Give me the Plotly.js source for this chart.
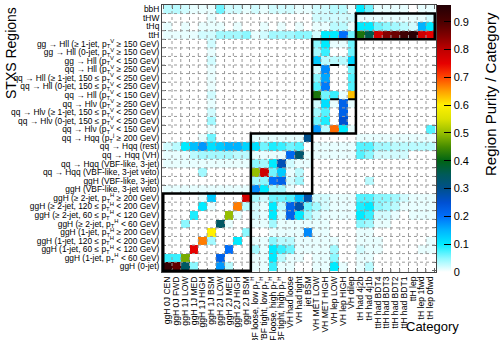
<!DOCTYPE html>
<html><head><meta charset="utf-8">
<script src="https://cdn.plot.ly/plotly-3.0.1.min.js"></script>
<style>html,body{margin:0;padding:0;background:#fff;}#chart{width:501px;height:340px;}</style>
</head><body><div id="chart"></div>
<script>
const categories = ["ggH 0J CEN","ggH 0J FWD","ggH 1J LOW","ggH 1J MED","ggH 1J HIGH","ggH 1J BSM","ggH 2J LOW","ggH 2J MED","ggH 2J HIGH","ggH 2J BSM",
 "VBF loose, low p<sub>T</sub><sup>H</sup>","VBF tight, low p<sub>T</sub><sup>H</sup>","VBF loose, high p<sub>T</sub><sup>H</sup>","VBF tight, high p<sub>T</sub><sup>H</sup>",
 "VH had loose","VH had tight","jet BSM","VH MET LOW","VH MET HIGH","VH lep LOW","VH lep HIGH","VH dilep",
 "tH had 4j2b","tH had 4j1b","ttH had BDT4","ttH had BDT3","ttH had BDT2","ttH had BDT1","ttH lep","tH lep 1fwd","tH lep 0fwd"];
const regions = ["bbH","tHW","tHq","ttH",
 "gg → Hll (≥ 1-jet, p<sub>T</sub><sup>V</sup> ≥ 150 GeV)",
 "gg → Hll (0-jet, p<sub>T</sub><sup>V</sup> ≥ 150 GeV)",
 "gg → Hll (p<sub>T</sub><sup>V</sup> &lt; 150 GeV)",
 "qq → Hll (p<sub>T</sub><sup>V</sup> ≥ 250 GeV)",
 "qq → Hll (≥ 1-jet, 150 ≤ p<sub>T</sub><sup>V</sup> &lt; 250 GeV)",
 "qq → Hll (0-jet, 150 ≤ p<sub>T</sub><sup>V</sup> &lt; 250 GeV)",
 "qq → Hll (p<sub>T</sub><sup>V</sup> &lt; 150 GeV)",
 "qq → Hlν (p<sub>T</sub><sup>V</sup> ≥ 250 GeV)",
 "qq → Hlν (≥ 1-jet, 150 ≤ p<sub>T</sub><sup>V</sup> &lt; 250 GeV)",
 "qq → Hlν (0-jet, 150 ≤ p<sub>T</sub><sup>V</sup> &lt; 250 GeV)",
 "qq → Hlν (p<sub>T</sub><sup>V</sup> &lt; 150 GeV)",
 "qq → Hqq (p<sub>T</sub><sup>j</sup> ≥ 200 GeV)",
 "qq → Hqq (rest)","qq → Hqq (VH)","qq → Hqq (VBF-like, 3-jet)","qq → Hqq (VBF-like, 3-jet veto)",
 "ggH (VBF-like, 3-jet)","ggH (VBF-like, 3-jet veto)",
 "ggH (≥ 2-jet, p<sub>T</sub><sup>H</sup> ≥ 200 GeV)",
 "ggH (≥ 2-jet, 120 ≤ p<sub>T</sub><sup>H</sup> &lt; 200 GeV)",
 "ggH (≥ 2-jet, 60 ≤ p<sub>T</sub><sup>H</sup> &lt; 120 GeV)",
 "ggH (≥ 2-jet, p<sub>T</sub><sup>H</sup> &lt; 60 GeV)",
 "ggH (1-jet, p<sub>T</sub><sup>H</sup> ≥ 200 GeV)",
 "ggH (1-jet, 120 ≤ p<sub>T</sub><sup>H</sup> &lt; 200 GeV)",
 "ggH (1-jet, 60 ≤ p<sub>T</sub><sup>H</sup> &lt; 120 GeV)",
 "ggH (1-jet, p<sub>T</sub><sup>H</sup> &lt; 60 GeV)",
 "ggH (0-jet)"];
const colorTicks = [0,0.1,0.2,0.3,0.4,0.5,0.6,0.7,0.8,0.9];
const colorTickText = ["0","0.1","0.2","0.3","0.4","0.5","0.6","0.7","0.8","0.9"];

// purity per region row (top to bottom), one value per category
const r_bbH   = [0.03,0.03,0.02,0.01,0.01,0.01,0.06,0.02,0.02,0.01,0.02,0.01,0.02,0.02,0.02,0.01,0.01,0.02,0.02,0.03,0.03,0.01,0.10,0.06,0.01,0.01,0.01,0.01,0,0.01,0.01];
const r_tHW   = [0,0,0,0,0,0.01,0,0,0,0,0,0,0,0,0,0,0,0.02,0.02,0.02,0.02,0.02,0.01,0.01,0.01,0.01,0.01,0.01,0.01,0.01,0.02];
const r_tHq   = [0.01,0,0.01,0,0.01,0.01,0.01,0,0.01,0,0,0.01,0,0.01,0,0.01,0,0.01,0.01,0.03,0.03,0.01,0.10,0.10,0.06,0.05,0.04,0.03,0.02,0.15,0.10];
const r_ttH   = [0.01,0.01,0.01,0.01,0.02,0.02,0.04,0.04,0.04,0.05,0.01,0.02,0.04,0.04,0.04,0.05,0.05,0.02,0.10,0.10,0.20,0.06,0.42,0.36,0.78,0.85,0.87,0.92,0.95,0.78,0.75];
const r_ggZll1 = [0,0,0,0,0,0.02,0,0,0,0,0,0,0,0,0,0,0,0.05,0.10,0.01,0.01,0.06,0,0,0,0,0,0,0,0,0];
const r_ggZll0 = [0,0,0,0,0,0.01,0,0,0,0,0,0,0,0,0,0,0,0.04,0.08,0,0,0.06,0,0,0,0,0,0,0,0,0];
const r_ggZllL = [0,0,0,0,0,0.02,0,0,0,0,0,0,0,0,0,0,0,0.13,0.03,0.03,0.03,0.12,0,0,0,0,0,0,0,0,0];
const r_qqZllH = [0,0,0,0,0,0.01,0,0,0,0,0,0,0,0,0,0,0,0.02,0.18,0,0,0.06,0,0,0,0,0,0,0,0,0];
const r_qqZll1 = [0,0,0,0,0,0.01,0,0,0,0,0,0,0,0,0,0,0,0.05,0.16,0,0,0.07,0,0,0,0,0,0,0,0,0];
const r_qqZll0 = [0,0,0,0,0,0.01,0,0,0,0,0,0,0,0,0,0,0,0.07,0.19,0,0,0.07,0,0,0,0,0,0,0,0,0];
const r_qqZllL = [0,0,0,0,0,0.02,0,0,0,0,0,0,0,0,0,0,0,0.42,0.06,0.08,0.01,0.63,0,0,0,0,0,0,0,0,0];
const r_qqWlvH = [0,0,0,0,0,0.01,0,0,0,0,0,0,0,0,0,0,0,0.02,0.11,0.01,0.22,0.01,0,0,0,0,0,0,0,0,0];
const r_qqWlv1 = [0,0,0,0,0,0.02,0,0,0,0,0,0,0,0,0,0,0,0.04,0.07,0,0.22,0,0,0,0,0,0,0,0,0,0];
const r_qqWlv0 = [0,0,0,0,0,0.04,0,0,0,0,0,0,0,0,0,0,0,0.06,0.09,0,0.25,0,0,0,0,0,0,0,0,0,0];
const r_qqWlvL = [0,0,0,0,0,0.01,0,0,0,0,0,0,0,0,0,0,0,0.17,0.03,0.68,0.10,0.01,0,0,0,0,0,0,0,0,0.07];
const r_qqHqqB = [0,0,0,0,0.01,0.06,0,0,0,0,0.01,0.01,0.01,0.01,0.01,0.01,0.30,0,0,0,0,0,0.01,0.01,0.01,0.01,0.01,0.01,0.01,0.01,0.01];
const r_qqHqqR = [0.02,0.03,0.10,0.14,0.17,0.11,0.13,0.15,0.15,0.12,0.11,0.06,0.09,0.08,0.06,0.07,0,0.01,0.01,0.01,0.01,0.01,0.07,0.07,0.04,0.04,0.03,0.03,0.03,0.03,0.03];
const r_qqHqqV = [0.01,0.01,0.01,0.03,0.04,0.04,0.04,0.04,0.03,0.03,0.01,0.01,0.01,0.01,0.21,0.33,0.01,0.01,0.01,0.01,0.01,0.01,0.07,0.05,0.02,0.02,0.02,0.02,0,0,0];
const r_qqVBF3 = [0.01,0.01,0.01,0.01,0.01,0.01,0.01,0.01,0.01,0.01,0.05,0.04,0.10,0.27,0.02,0.01,0.01,0,0,0,0,0,0,0,0,0,0,0,0,0,0];
const r_qqVBFv = [0,0,0,0,0.04,0,0,0,0,0,0.50,0.78,0.06,0.13,0.01,0.03,0,0,0,0,0,0,0,0,0,0,0,0,0,0,0];
const r_ggVBF3 = [0,0,0,0,0,0,0,0,0,0,0.04,0.05,0.20,0.22,0.02,0.04,0,0,0,0,0,0,0,0.03,0,0,0,0,0,0,0];
const r_ggVBFv = [0.01,0.01,0.01,0.01,0.01,0.01,0.01,0.01,0.01,0.01,0.18,0.10,0.04,0.04,0.01,0,0,0,0,0,0,0,0,0,0,0,0,0,0,0,0];
const r_gg2jB  = [0,0,0,0,0.01,0.13,0,0,0,0.77,0.04,0.02,0.06,0.06,0.07,0.14,0.28,0.02,0.02,0.01,0.01,0.01,0.07,0.07,0.05,0.05,0.04,0.02,0.01,0.01,0.01];
const r_gg2jH  = [0,0,0,0,0.10,0.01,0,0,0.67,0.03,0.02,0.01,0.10,0.03,0.22,0.28,0.06,0.04,0.02,0.01,0.01,0.01,0.09,0.10,0.05,0.04,0.03,0.01,0.01,0.01,0.01];
const r_gg2jM  = [0,0,0,0.09,0,0,0,0.50,0.01,0,0.02,0.01,0.10,0.02,0.22,0.10,0.04,0.02,0.01,0.01,0.01,0.01,0.10,0.08,0.02,0.02,0.01,0,0.01,0.01,0.01];
const r_gg2jL  = [0,0,0.05,0,0,0,0.34,0.01,0,0,0.01,0.01,0.04,0.01,0.01,0.01,0.01,0.01,0.01,0,0,0,0.05,0.04,0.01,0.01,0,0,0,0,0];
const r_gg1jB  = [0,0,0,0,0,0.60,0,0,0,0.05,0,0,0.01,0.01,0.01,0.01,0.18,0.01,0.01,0,0,0,0.01,0.01,0,0,0,0,0,0,0];
const r_gg1jH  = [0,0,0,0,0.67,0.04,0,0,0.10,0,0.01,0.01,0.05,0.03,0.03,0.01,0.01,0.01,0.01,0.01,0,0,0.01,0.01,0.01,0,0,0,0,0,0.01];
const r_gg1jM  = [0,0,0,0.75,0,0,0,0.20,0,0,0.04,0.01,0.10,0.08,0.06,0.01,0.01,0.01,0.01,0.04,0,0,0.02,0.01,0.01,0,0,0,0,0.01,0.01];
const r_gg1jL  = [0.08,0.08,0.48,0,0,0,0.22,0,0,0,0.01,0.01,0.10,0.03,0.01,0.01,0,0.01,0.01,0.05,0,0,0.01,0.01,0,0,0,0,0,0,0];
const r_gg0j   = [0.93,0.88,0.34,0.05,0,0,0.17,0.03,0,0,0.01,0.01,0.08,0.01,0.01,0,0,0.01,0.01,0.10,0.01,0,0.01,0.03,0,0,0,0,0,0,0];

const rows = [r_bbH,r_tHW,r_tHq,r_ttH,r_ggZll1,r_ggZll0,r_ggZllL,r_qqZllH,r_qqZll1,r_qqZll0,r_qqZllL,
  r_qqWlvH,r_qqWlv1,r_qqWlv0,r_qqWlvL,r_qqHqqB,r_qqHqqR,r_qqHqqV,r_qqVBF3,r_qqVBFv,r_ggVBF3,r_ggVBFv,
  r_gg2jB,r_gg2jH,r_gg2jM,r_gg2jL,r_gg1jB,r_gg1jH,r_gg1jM,r_gg1jL,r_gg0j];
const z = rows.map(r => r.map(v => v === 0 ? null : v));

const zmax = 0.96;
const stops = [[0,'#ffffff'],[0.05,'rgb(140,248,255)'],[0.1,'rgb(0,235,255)'],[0.15,'rgb(0,180,255)'],[0.2,'rgb(0,110,250)'],
 [0.25,'rgb(0,80,210)'],[0.3,'rgb(0,80,140)'],[0.35,'rgb(0,90,90)'],[0.4,'rgb(0,100,20)'],[0.45,'rgb(70,140,0)'],
 [0.5,'rgb(150,190,0)'],[0.55,'rgb(220,225,0)'],[0.6,'rgb(255,240,0)'],[0.65,'rgb(255,160,0)'],[0.7,'rgb(255,70,0)'],
 [0.75,'rgb(230,0,0)'],[0.8,'rgb(190,0,0)'],[0.85,'rgb(130,0,0)'],[0.9,'rgb(75,0,0)'],[0.96,'rgb(35,0,5)']];
const colorscale = stops.map(s => [s[0]/zmax, s[1]]);

const FONT = 'Liberation Sans, Arial, Helvetica, sans-serif';

const trace = {
  type:'heatmap', x: categories, y: regions, z: z, zmin:0, zmax:zmax, colorscale: colorscale,
  hoverinfo:'skip', xgap:0, ygap:0,
  colorbar:{
    x:1.003, xanchor:'left', xpad:0, y:0.5, yanchor:'middle', len:1, lenmode:'fraction', ypad:0,
    thickness:14, outlinewidth:0,
    tickmode:'array', tickvals: colorTicks, ticktext: colorTickText,
    ticks:'inside', ticklen:7, tickcolor:'#000', tickwidth:1,
    tickfont:{family:FONT, size:11, color:'#000'}
  }
};

const xi = name => categories.indexOf(name);
const yi = name => regions.indexOf(name);
const shapes = [];
for (let i = 1; i < categories.length; i++) {
  shapes.push({type:'line', xref:'x', yref:'paper', x0:i-0.5, x1:i-0.5, y0:0, y1:1, layer:'above',
    line:{color:'#9a9a9a', width:1, dash:'dot'}});
}
for (let i = 1; i < regions.length; i++) {
  shapes.push({type:'line', xref:'paper', yref:'y', x0:0, x1:1, y0:i-0.5, y1:i-0.5, layer:'above',
    line:{color:'#9a9a9a', width:1, dash:'dot'}});
}
function box(c0, c1, r0, r1) {
  shapes.push({type:'rect', xref:'x', yref:'y', x0:xi(c0)-0.5, x1:xi(c1)+0.5, y0:yi(r0)-0.5, y1:yi(r1)+0.5,
    layer:'above', line:{color:'#000', width:2.5}, fillcolor:'rgba(0,0,0,0)'});
}
function dashed(c0, c1, rBelow) {
  const y = yi(rBelow) - 0.5;
  shapes.push({type:'line', xref:'x', yref:'y', x0:xi(c0)-0.5, x1:xi(c1)+0.5, y0:y, y1:y,
    layer:'above', line:{color:'#000', width:2, dash:'dash'}});
}
box(categories[0], categories[9], regions[22], regions[30]);
box(categories[10], categories[16], regions[15], regions[21]);
box(categories[17], categories[21], regions[4], regions[14]);
box(categories[22], categories[30], regions[1], regions[3]);
dashed(categories[17], categories[21], regions[7]);
dashed(categories[17], categories[21], regions[11]);

const layout = {
  width:501, height:340, paper_bgcolor:'#fff', plot_bgcolor:'#fff',
  margin:{l:162, r:65, t:5, b:68, pad:0},
  font:{family:FONT, color:'#000'},
  xaxis:{type:'category', tickmode:'array', tickvals:categories, ticktext:categories,
    tickson:'boundaries', ticks:'inside', ticklen:4, tickcolor:'#666',
    showgrid:false, zeroline:false, showline:true, linecolor:'#444', linewidth:1, mirror:'ticks',
    tickangle:-90, tickfont:{family:FONT, size:8.6, color:'#000'}, automargin:false, fixedrange:true},
  yaxis:{type:'category', tickmode:'array', tickvals:regions, ticktext:regions,
    autorange:'reversed', tickson:'boundaries', ticks:'inside', ticklen:4, tickcolor:'#666',
    showgrid:false, zeroline:false, showline:true, linecolor:'#444', linewidth:1, mirror:'ticks',
    tickfont:{family:FONT, size:8.4, color:'#000'}, automargin:false, fixedrange:true},
  shapes: shapes,
  annotations:[
    {text:'STXS Regions', xref:'paper', yref:'paper', x:(11-162)/274, y:1, xanchor:'center', yanchor:'top',
     textangle:-90, showarrow:false, font:{family:FONT, size:14, color:'#000'}},
    {text:'Category', xref:'paper', yref:'paper', x:(461-162)/274, y:-(326-272)/267, xanchor:'right', yanchor:'middle',
     showarrow:false, font:{family:FONT, size:13, color:'#000'}},
    {text:'Region Purity / Category', xref:'paper', yref:'paper', x:(490-162)/274, y:1-(10-5)/267, xanchor:'center', yanchor:'top',
     textangle:-90, showarrow:false, font:{family:FONT, size:15, color:'#000'}}
  ]
};
Plotly.newPlot('chart', [trace], layout, {staticPlot:true, displayModeBar:false});
</script></body></html>
